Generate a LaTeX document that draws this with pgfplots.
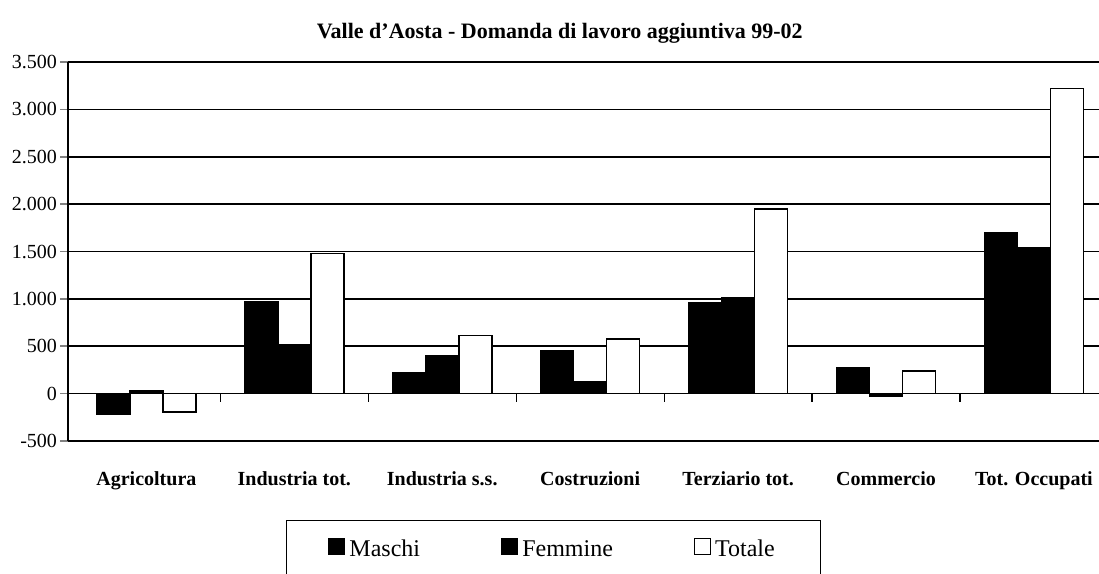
\documentclass[border=0pt]{standalone}
\usepackage{fontspec}
\setmainfont{Liberation Serif}
\usepackage{pgfplots}
\pgfplotsset{compat=1.18}

\begin{document}
\begin{tikzpicture}
\begin{axis}[
    name=ax,
    scale only axis,
    width=515.5pt, height=189.5pt,
    ymin=-500, ymax=3500, ytick distance=500,
    xmin=-0.53, xmax=6.44,
    ybar=0pt, bar width=16.5pt,
    axis x line*=bottom, axis y line*=left,
    axis line style={line width=0.8pt},
    xtick=data,
    xticklabels={Agricoltura, Industria tot., Industria s.s., Costruzioni, Terziario tot., Commercio, Tot. Occupati},
    x tick label style={font=\bfseries\fontsize{10}{12}\selectfont, yshift=-8pt},
    x tick style={draw=none},
    y tick label style={font=\fontsize{10}{12}\selectfont, xshift=2pt},
    y tick style={line width=0.8pt},
    tick align=outside, major tick length=4pt,
    /pgf/number format/.cd, 1000 sep={.}, assume math mode=true,
    /pgfplots/.cd,
    ymajorgrids,
    grid style={black, line width=0.8pt},
    title={Valle d'Aosta - Domanda di lavoro aggiuntiva 99-02},
    title style={font=\bfseries\fontsize{11}{13}\selectfont, at={(0.477,1)}, yshift=0pt},
    legend columns=3,
    legend style={at={(0.4709,-0.2084)}, anchor=north, draw=black, line width=0.6pt,
        inner xsep=21pt, inner ysep=6pt, font=\fontsize{12}{14}\selectfont,
        /tikz/every even column/.append style={column sep=38.5pt}},
    legend image code/.code={\draw[#1, line width=0.6pt] (0pt,-3.5pt) rectangle (8pt,4.5pt);},
]
\addplot[draw=black, fill=black, line width=0.8pt] coordinates {(0,-215) (1,965) (2,220) (3,450) (4,960) (5,270) (6,1700)};
\addplot[draw=black, fill=black, line width=0.8pt] coordinates {(0,25) (1,520) (2,400) (3,130) (4,1010) (5,-25) (6,1535)};
\addplot[draw=black, fill=white, line width=0.8pt] coordinates {(0,-195) (1,1480) (2,615) (3,575) (4,1950) (5,240) (6,3220)};
\legend{\strut Maschi, \strut Femmine, \strut Totale}
\foreach \b in {0.5,1.5,2.5,3.5,4.5,5.5} {
    \edef\tmp{\noexpand\draw[line width=0.6pt] (axis cs:\b,0) -- ([yshift=-4pt]axis cs:\b,0);}\tmp
}
\end{axis}
\pgfresetboundingbox
\path[use as bounding box] ([xshift=-34pt, yshift=-66pt]ax.south west) rectangle ([yshift=31pt]ax.north east);
\end{tikzpicture}
\end{document}
